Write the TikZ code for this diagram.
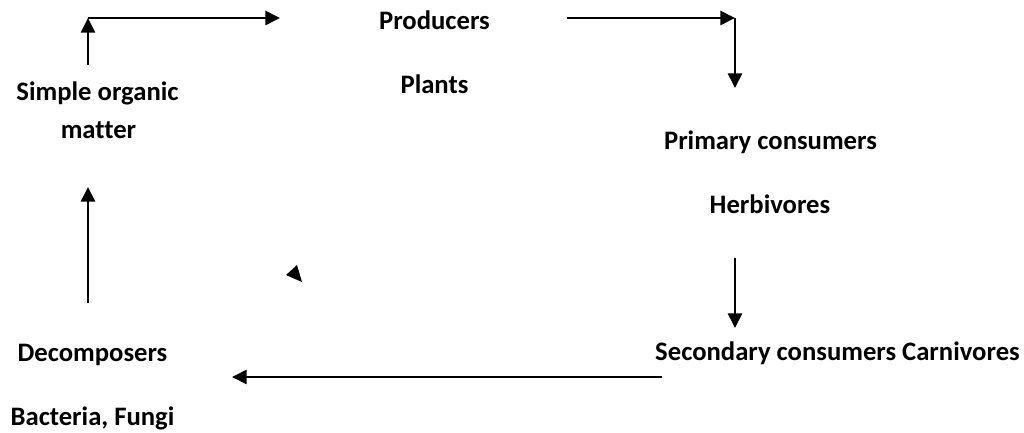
\documentclass[tikz,border=0pt]{standalone}
\usepackage{fontspec}
\setmainfont{Carlito}[Ligatures=CommonOff]
\usetikzlibrary{arrows.meta}
\tikzstyle{txt} = [font=\fontsize{20}{24}\selectfont\bfseries, inner sep=0, anchor=base]
\tikzstyle{arrow} = [line width=2pt,-{Triangle[length=11pt,width=10.5pt]}]

\begin{document}
\begin{tikzpicture}[x=0.75pt,y=-0.75pt]
\useasboundingbox (0,0) rectangle (1024,432);

% labels
\node[txt] (producers) at (434.5,29) {Producers};
\node[txt] (plants) at (434.5,93) {Plants};
\node[txt] (primary) at (770.5,149) {Primary consumers};
\node[txt] (herbivores) at (770,213) {Herbivores};
\node[txt] (secondary) at (837.5,360) {Secondary consumers Carnivores};
\node[txt] (decomposers) at (92.5,361) {Decomposers};
\node[txt] (bacteria) at (92.5,425) {Bacteria, Fungi};
\node[txt] (simple) at (97.5,100) {Simple organic};
\node[txt] (matter) at (98.5,138) {matter};

% arrow ends
\coordinate (tl) at (88,18);
\coordinate (tl0) at (88,65);
\coordinate (t1) at (280,18);
\coordinate (t2) at (567,18);
\coordinate (tr) at (735,18);
\coordinate (tr1) at (735,88);
\coordinate (r0) at (735,258);
\coordinate (r1) at (735,328);
\coordinate (b0) at (662,377);
\coordinate (b1) at (232,377);
\coordinate (l0) at (88,303);
\coordinate (l1) at (88,187);

\draw[arrow] (tl0) -- (tl);
\draw[arrow] (tl) -- (t1);
\draw[arrow] (t2) -- (tr);
\draw[arrow] (tr) -- (tr1);
\draw[arrow] (r0) -- (r1);
\draw[arrow] (b0) -- (b1);
\draw[arrow] (l0) -- (l1);

% loose arrow head
\fill (286,275) -- (297,265) -- (302,282) -- cycle;
\end{tikzpicture}
\end{document}
